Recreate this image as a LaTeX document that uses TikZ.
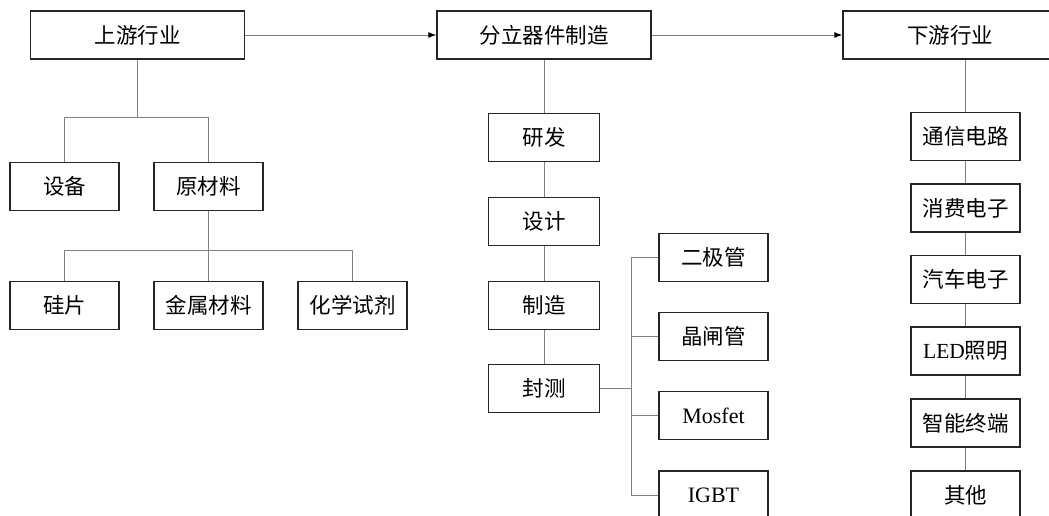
\documentclass[tikz,border=0pt]{standalone}
\usepackage{fontspec}
\setmainfont{Liberation Serif}
\newfontfamily\cjk{Noto Sans CJK SC}
\usetikzlibrary{arrows.meta}

\begin{document}
\begin{tikzpicture}[x=1pt,y=-1pt,
    box/.style={draw=black!85,line width=1.3pt,rectangle,inner sep=0pt,
      minimum width=109pt,minimum height=48pt,font=\fontsize{21.5}{23}\selectfont\cjk},
    topbox/.style={box,minimum width=214pt},
    conn/.style={draw=black!50,line width=1pt},
    flow/.style={conn,-{Latex[length=8pt,width=6pt,black]}}]
  \useasboundingbox (0,0) rectangle (1049,515);
  % top row
  \node[topbox](up)at(137.5,35){上游行业};
  \node[topbox](fenli)at(544,35){分立器件制造};
  \node[topbox](xia)at(950,35){下游行业};
  \draw[flow](up)--(fenli);
  \draw[flow](fenli)--(xia);
  % upstream
  \node[box](shebei)at(64.5,186.5){设备};
  \node[box](yuan)at(208.5,186.5){原材料};
  \node[box](guipian)at(64.5,305.5){硅片};
  \node[box](jinshu)at(208.5,305.5){金属材料};
  \node[box](huaxue)at(352.5,305.5){化学试剂};
  \draw[conn](up.south)--++(0,58)coordinate(upj);
  \draw[conn](shebei.north)|-(upj)-|(yuan.north);
  \draw[conn](yuan.south)--++(0,39)coordinate(yuanj);
  \draw[conn](guipian.north)|-(yuanj)-|(huaxue.north);
  \draw[conn](yuanj)--(jinshu.north);
  % manufacturing
  \node[box,minimum width=111pt](yanfa)at(544,137.5){研发};
  \node[box,minimum width=111pt](sheji)at(544,221.5){设计};
  \node[box,minimum width=111pt](zhizao)at(544,305.5){制造};
  \node[box,minimum width=111pt](fengce)at(544,388.5){封测};
  \draw[conn](fenli)--(yanfa);
  \draw[conn](yanfa)--(sheji);
  \draw[conn](sheji)--(zhizao);
  \draw[conn](zhizao)--(fengce);
  \node[box](erji)at(713.5,257.5){二极管};
  \node[box](jingzha)at(713.5,336.5){晶闸管};
  \node[box,font=\fontsize{22}{24}\selectfont](mosfet)at(713.5,415.5){Mosfet};
  \node[box,font=\fontsize{22}{24}\selectfont](igbt)at(713.5,495){IGBT};
  \draw[conn](erji.west)--++(-27,0)coordinate(devj)|-(igbt.west);
  \draw[conn](jingzha.west)--(jingzha.west-|devj);
  \draw[conn](mosfet.west)--(mosfet.west-|devj);
  \draw[conn](fengce.east)--(fengce.east-|devj);
  % downstream
  \node[box](tongxin)at(965.5,136.5){通信电路};
  \node[box](xiaofei)at(965.5,208){消费电子};
  \node[box](qiche)at(965.5,279.5){汽车电子};
  \node[box](led)at(965.5,351){{\rmfamily LED}照明};
  \node[box](zhineng)at(965.5,423){智能终端};
  \node[box](qita)at(965.5,495){其他};
  \draw[conn](xia.south-|tongxin)--(tongxin);
  \draw[conn](tongxin)--(xiaofei);
  \draw[conn](xiaofei)--(qiche);
  \draw[conn](qiche)--(led);
  \draw[conn](led)--(zhineng);
  \draw[conn](zhineng)--(qita);
\end{tikzpicture}
\end{document}
